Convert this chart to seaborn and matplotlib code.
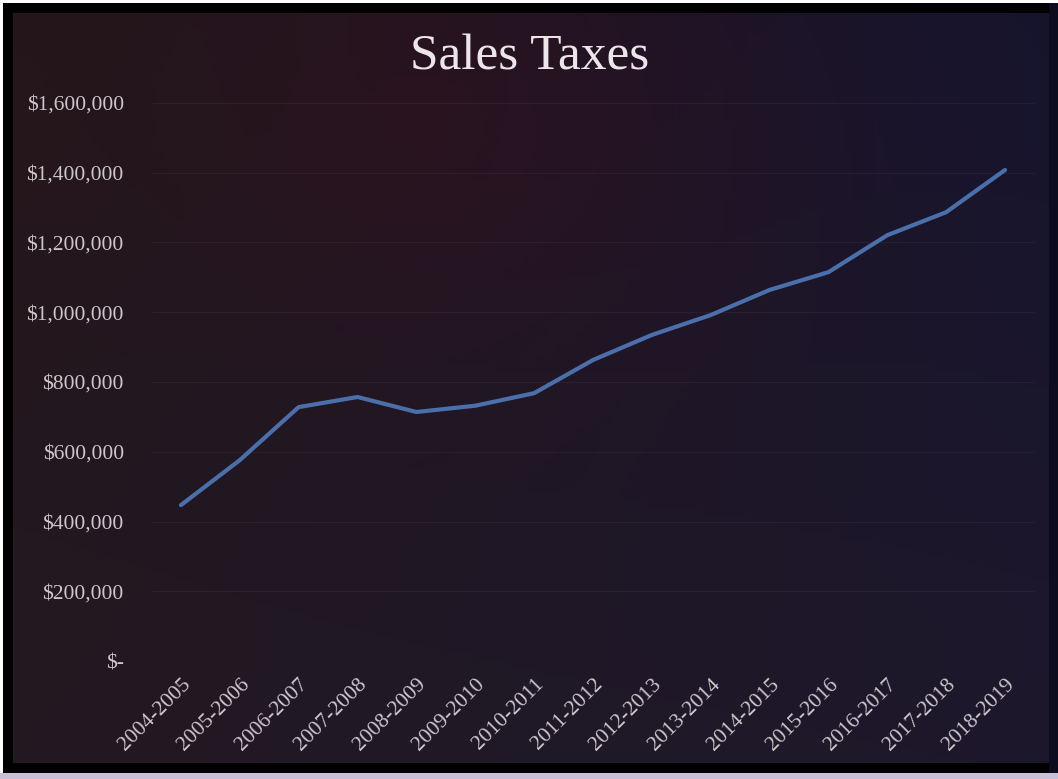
import numpy as np
import pandas as pd
import matplotlib
matplotlib.use("Agg")
import matplotlib.pyplot as plt
import seaborn as sns
from matplotlib.ticker import FuncFormatter

# Fiscal years and annual sales-tax revenue (USD)
years = ["2004-2005", "2005-2006", "2006-2007", "2007-2008", "2008-2009",
         "2009-2010", "2010-2011", "2011-2012", "2012-2013", "2013-2014",
         "2014-2015", "2015-2016", "2016-2017", "2017-2018", "2018-2019"]
sales_tax = [447000, 576000, 728000, 757000, 714000,
             732000, 768000, 863000, 935000, 992000,
             1064000, 1115000, 1221000, 1287000, 1408000]
y_ticks = [0, 200000, 400000, 600000, 800000, 1000000, 1200000, 1400000, 1600000]

df = pd.DataFrame({"year": years, "tax": sales_tax})

sns.set_theme(style="dark")
plt.rcParams["font.family"] = ["Liberation Serif", "DejaVu Serif"]

W, H = 1058, 779
fig = plt.figure(figsize=(W / 100, H / 100), dpi=100)
fig.patch.set_facecolor("white")

# Dark backdrop with a warm-to-navy gradient
bg = fig.add_axes([0, 0, 1, 1], zorder=0)
bg.set_axis_off()
ny, nx = 200, 300
u = np.linspace(0, 1, nx)[None, :, None]
v = np.linspace(0, 1, ny)[:, None, None]
tl = np.array([36, 22, 26]) / 255
tr = np.array([22, 20, 46]) / 255
bl = np.array([34, 25, 33]) / 255
br = np.array([30, 24, 44]) / 255
img = (tl * (1 - u) * (1 - v) + tr * u * (1 - v) + bl * (1 - u) * v + br * u * v)
# slight maroon warmth across the upper middle
warm = np.exp(-((u - 0.45) ** 2) / 0.08 - (v - 0.15) ** 2 / 0.1)
img = img + warm * (np.array([10, -2, -3]) / 255)
img = np.clip(img, 0, 1)
bg.imshow(img, extent=[0, 1, 0, 1], aspect="auto", origin="upper")
bg.set_xlim(0, 1)
bg.set_ylim(0, 1)

# Frame: thin white margin, black border, lavender strip at bottom
for (x0, y0, w, h, c) in [
    (0, 0, 3, H, "white"), (0, 0, W, 3, "white"),
    (3, 3, 10, H - 3, "black"), (3, 3, W - 3, 10, "black"),
    (3, 763, W - 3, 10, "black"), (0, 773, W, 6, "#c9c0d8"),
    (1049, 3, 9, 770, "#0d0c1e"),
]:
    bg.add_patch(plt.Rectangle((x0 / W, 1 - (y0 + h) / H), w / W, h / H,
                               color=c, lw=0, transform=bg.transAxes))

# Plot area
left, right, top, bottom = 151.5, 1034.5, 103, 661
ax = fig.add_axes([left / W, 1 - bottom / H, (right - left) / W, (bottom - top) / H], zorder=1)
ax.patch.set_alpha(0)

sns.lineplot(data=df, x="year", y="tax", ax=ax, color="#4a6fab", linewidth=3.0, sort=False)

ax.set_xlim(-0.5, len(years) - 0.5)
ax.set_ylim(0, 1600000)
ax.set_yticks(y_ticks)
ax.yaxis.set_major_formatter(FuncFormatter(lambda v, p: "$-" if v == 0 else f"${v:,.0f}"))
ax.grid(axis="y", color="#5a4a58", alpha=0.18, linewidth=0.8)
ax.grid(axis="x", visible=False)
for s in ax.spines.values():
    s.set_visible(False)
ax.set_xlabel("")
ax.set_ylabel("")

text_col = "#cdc6cc"
ax.tick_params(axis="y", colors=text_col, labelsize=15.5, length=0, pad=20)
ax.tick_params(axis="x", colors=text_col, labelsize=15.5, length=0, pad=10)
ax.set_xticks(range(len(years)))
ax.set_xticklabels(years, rotation=45, ha="right", va="top", rotation_mode="anchor")

fig.text(530 / W, 1 - 57 / H, "Sales Taxes", ha="center", va="center",
         fontsize=37, color="#ece6ea", zorder=3)

fig.savefig("out.png", dpi=100, facecolor=fig.get_facecolor())
